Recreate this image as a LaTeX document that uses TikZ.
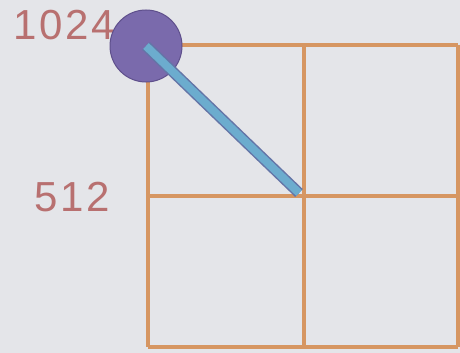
\documentclass[tikz,border=0pt]{standalone}
\usepackage{fontspec}
\setmainfont{Liberation Sans}
\definecolor{paper}{RGB}{228,229,233}
\definecolor{gridline}{RGB}{214,150,98}
\definecolor{knobfill}{RGB}{122,106,172}
\definecolor{knobedge}{RGB}{95,80,140}
\definecolor{stickfill}{RGB}{108,172,206}
\definecolor{labelred}{RGB}{184,112,112}
\tikzset{
  knob/.style={circle,fill=knobfill,draw=knobedge,line width=1pt,minimum size=72pt,inner sep=0pt},
  value/.style={text=labelred,font=\fontsize{42}{42}\selectfont\addfontfeature{LetterSpace=6},inner sep=0pt}
}
\begin{document}
\begin{tikzpicture}[x=1pt,y=-1pt]
\useasboundingbox[fill=paper] (0,0) rectangle (460,353);
% Grid
\foreach \x in {148,304,458} {\draw[gridline,line width=4pt] (\x,45) -- (\x,347);}
\foreach \y in {45,196,347} {\draw[gridline,line width=4pt] (148,\y) -- (458,\y);}
\coordinate (mid) at (299,193);
% Labels
\node[value] (top) at (64,25) {1024};
\node[value] (half) at (72,197) {512};
% Knob and stick
\node[knob] (knob) at (146,46) {};
\draw[knobedge!60!stickfill,line width=11pt] (knob.center) -- (mid);
\draw[stickfill,line width=8pt] (knob.center) -- (mid);
\end{tikzpicture}
\end{document}
